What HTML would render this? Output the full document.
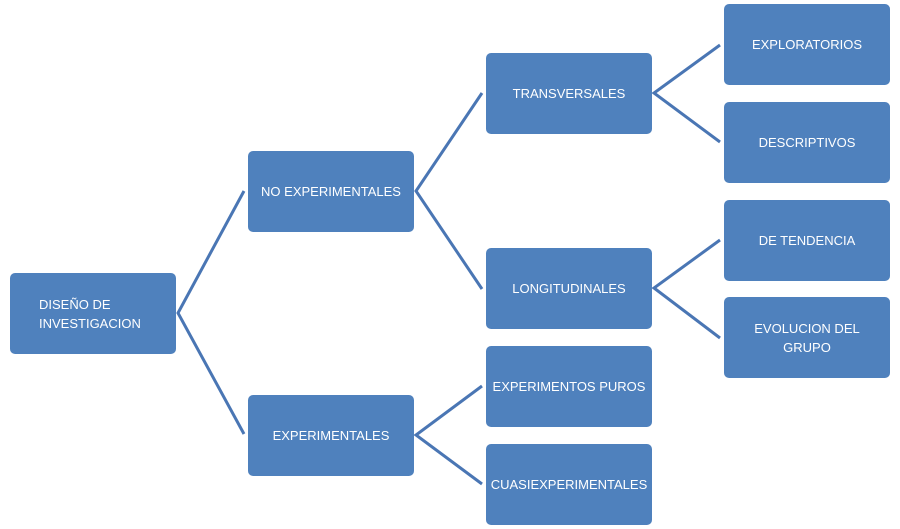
<!DOCTYPE html>
<html><head><meta charset="utf-8"><style>
body{margin:0;width:900px;height:529px;background:#fff;position:relative;overflow:hidden;font-family:"Liberation Sans",sans-serif}
.b{position:absolute;width:166px;height:81px;background:#4f81bd;border-radius:5px;color:#fff;font-size:13px;display:flex;align-items:center;justify-content:center;text-align:center;line-height:19px}
svg{position:absolute;left:0;top:0}
</style></head><body>
<svg width="900" height="529"><g stroke="#4a76b4" stroke-width="3" fill="none">
<polyline points="244,191 178,313 244,434"/>
<polyline points="482,93 416,191 482,289"/>
<polyline points="482,386 416,435 482,484"/>
<polyline points="720,45 654,93 720,142"/>
<polyline points="720,240 654,288 720,338"/>
</g></svg>
<div class="b" style="left:10px;top:273px;text-align:left;justify-content:flex-start;padding-left:29px;width:137px">DISEÑO DE<br>INVESTIGACION</div>
<div class="b" style="left:248px;top:151px">NO EXPERIMENTALES</div>
<div class="b" style="left:248px;top:395px">EXPERIMENTALES</div>
<div class="b" style="left:486px;top:53px">TRANSVERSALES</div>
<div class="b" style="left:486px;top:248px">LONGITUDINALES</div>
<div class="b" style="left:486px;top:346px;align-items:flex-start;padding-top:0;height:81px"><span style="margin-top:31px">EXPERIMENTOS PUROS</span></div>
<div class="b" style="left:486px;top:444px">CUASIEXPERIMENTALES</div>
<div class="b" style="left:724px;top:4px;align-items:flex-start"><span style="margin-top:31px">EXPLORATORIOS</span></div>
<div class="b" style="left:724px;top:102px">DESCRIPTIVOS</div>
<div class="b" style="left:724px;top:200px;align-items:flex-start"><span style="margin-top:31px">DE TENDENCIA</span></div>
<div class="b" style="left:724px;top:297px;align-items:flex-start"><span style="margin-top:22px">EVOLUCION DEL<br>GRUPO</span></div>
</body></html>
